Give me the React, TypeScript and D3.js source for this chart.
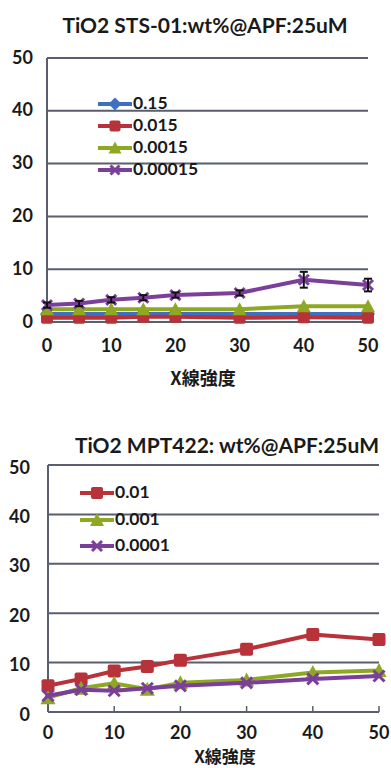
import React from "react";
import * as d3 from "d3";

const xValues = [0, 5, 10, 15, 20, 30, 40, 50];
const xTicks = [0, 10, 20, 30, 40, 50];
const yTicks = [0, 10, 20, 30, 40, 50];

// Panel 1: TiO2 STS-01
const stsLabels = ["0.15", "0.015", "0.0015", "0.00015"];
const sts015 = [1.5, 1.5, 1.5, 1.5, 1.5, 1.5, 1.5, 1.5];
const sts0015 = [0.8, 0.8, 0.8, 1.0, 1.0, 0.8, 0.9, 0.8];
const sts00015 = [2.4, 2.4, 2.4, 2.4, 2.4, 2.4, 3.0, 3.0];
const sts000015 = [3.2, 3.5, 4.2, 4.6, 5.1, 5.5, 8.0, 7.0];
const sts000015Err = [0.5, 0.5, 0.5, 0.5, 0.5, 0.5, 1.5, 1.2];

// Panel 2: TiO2 MPT422
const mptLabels = ["0.01", "0.001", "0.0001"];
const mpt001 = [5.3, 6.7, 8.3, 9.2, 10.5, 12.7, 15.7, 14.7];
const mpt0001 = [2.9, 4.8, 5.8, 4.6, 5.9, 6.5, 8.0, 8.4];
const mpt00001 = [3.3, 4.5, 4.3, 4.8, 5.3, 5.9, 6.7, 7.3];

const BLUE = "#3f6fc0";
const RED = "#b8323a";
const GREEN = "#8fa823";
const PURPLE = "#7b3f9a";
const GRID = "#5a5e6e";
const FONT = "Lato, 'Open Sans', sans-serif";
const CJK = "'Noto Sans CJK JP', sans-serif";

type Shape = "diamond" | "square" | "triangle" | "x";

interface Series {
  label: string;
  values: number[];
  color: string;
  shape: Shape;
  err?: number[];
}

function Marker({ shape, color, x, y, size }: { shape: Shape; color: string; x: number; y: number; size: number }) {
  if (shape === "square") {
    return <rect x={x - size / 2} y={y - size / 2} width={size} height={size} fill={color} rx={2} />;
  }
  if (shape === "diamond") {
    const s = size / 2 + 1;
    return <path d={`M${x},${y - s}L${x + s},${y}L${x},${y + s}L${x - s},${y}Z`} fill={color} />;
  }
  if (shape === "triangle") {
    const s = size / 2;
    return <path d={`M${x},${y - s - 1}L${x + s + 1},${y + s}L${x - s - 1},${y + s}Z`} fill={color} />;
  }
  const s = size / 2 - 1;
  return (
    <g stroke={color} strokeWidth={3}>
      <line x1={x - s} y1={y - s} x2={x + s} y2={y + s} />
      <line x1={x - s} y1={y + s} x2={x + s} y2={y - s} />
    </g>
  );
}

interface PanelProps {
  title: string;
  titleX: number;
  titleY: number;
  x0: number;
  x1: number;
  yTop: number;
  yBottom: number;
  series: Series[];
  legendX: number;
  legendY: number[];
  markerSize: number;
  tickLabelDx: number;
  tickMarks: boolean;
  axisTitleX: number;
  axisTitleY: number;
  axisTitleSize: number;
  xLabelY: number;
  yLabelDy: number;
}

function Panel(p: PanelProps) {
  const x = d3.scaleLinear().domain([0, 50]).range([p.x0, p.x1]);
  const y = d3.scaleLinear().domain([0, 50]).range([p.yBottom, p.yTop]);
  const line = d3
    .line<number>()
    .x((_, i) => x(xValues[i]))
    .y((d) => y(d));

  return (
    <g>
      <text x={p.titleX} y={p.titleY} textAnchor="middle" fontFamily={FONT} fontWeight={700} fontSize={21} fill="#1a1a1a">
        {p.title}
      </text>
      {yTicks.map((t) => (
        <g key={t}>
          <line x1={p.x0} x2={p.x1} y1={y(t)} y2={y(t)} stroke={GRID} strokeWidth={2} />
          <text
            x={p.x0 - p.tickLabelDx}
            y={y(t) + p.yLabelDy}
            textAnchor="end"
            dominantBaseline="middle"
            fontFamily={FONT}
            fontWeight={700}
            fontSize={18}
            fill="#1a1a1a"
          >
            {t}
          </text>
        </g>
      ))}
      <line x1={p.x0} x2={p.x0} y1={p.yTop} y2={p.yBottom} stroke={GRID} strokeWidth={2} />
      {xTicks.map((t) => (
        <g key={t}>
          {p.tickMarks && t > 0 && (
            <line x1={x(t)} x2={x(t)} y1={p.yBottom} y2={p.yBottom - 6} stroke={GRID} strokeWidth={1.5} />
          )}
          <text
            x={x(t)}
            y={p.xLabelY}
            textAnchor="middle"
            dominantBaseline="middle"
            fontFamily={FONT}
            fontWeight={700}
            fontSize={18}
            fill="#1a1a1a"
          >
            {t}
          </text>
        </g>
      ))}
      <text
        x={p.axisTitleX}
        y={p.axisTitleY}
        textAnchor="middle"
        dominantBaseline="middle"
        fontFamily={CJK}
        fontWeight={700}
        fontSize={p.axisTitleSize}
        fill="#1a1a1a"
      >
        X線強度
      </text>

      {p.series.map((s) => (
        <g key={s.label}>
          <path d={line(s.values) || ""} fill="none" stroke={s.color} strokeWidth={4} strokeLinejoin="round" />
          {s.values.map((v, i) => (
            <g key={i}>
              <Marker shape={s.shape} color={s.color} x={x(xValues[i])} y={y(v)} size={p.markerSize} />
              {s.err && (
                <g stroke="#111" strokeWidth={2}>
                  <line x1={x(xValues[i])} x2={x(xValues[i])} y1={y(v - s.err[i])} y2={y(v + s.err[i])} />
                  <line x1={x(xValues[i]) - 4} x2={x(xValues[i]) + 4} y1={y(v + s.err[i])} y2={y(v + s.err[i])} />
                  <line x1={x(xValues[i]) - 4} x2={x(xValues[i]) + 4} y1={y(v - s.err[i])} y2={y(v - s.err[i])} />
                </g>
              )}
            </g>
          ))}
        </g>
      ))}

      {p.series.map((s, i) => (
        <g key={s.label}>
          <line x1={p.legendX} x2={p.legendX + 34} y1={p.legendY[i]} y2={p.legendY[i]} stroke={s.color} strokeWidth={4} />
          <Marker shape={s.shape} color={s.color} x={p.legendX + 17} y={p.legendY[i]} size={p.markerSize - 1} />
          <text
            x={p.legendX + 35}
            y={p.legendY[i] + 1}
            dominantBaseline="middle"
            fontFamily={FONT}
            fontWeight={700}
            fontSize={17.5}
            fill="#1a1a1a"
          >
            {s.label}
          </text>
        </g>
      ))}
    </g>
  );
}

export default function App() {
  const stsSeries: Series[] = [
    { label: stsLabels[0], values: sts015, color: BLUE, shape: "diamond" },
    { label: stsLabels[1], values: sts0015, color: RED, shape: "square" },
    { label: stsLabels[2], values: sts00015, color: GREEN, shape: "triangle" },
    { label: stsLabels[3], values: sts000015, color: PURPLE, shape: "x", err: sts000015Err },
  ];
  const mptSeries: Series[] = [
    { label: mptLabels[0], values: mpt001, color: RED, shape: "square" },
    { label: mptLabels[1], values: mpt0001, color: GREEN, shape: "triangle" },
    { label: mptLabels[2], values: mpt00001, color: PURPLE, shape: "x" },
  ];
  return (
    <svg width={391} height={768} style={{ position: "absolute", left: 0, top: 0, background: "#fff" }}>
      <Panel
        title="TiO2 STS-01:wt%@APF:25uM"
        titleX={205}
        titleY={33}
        x0={47}
        x1={368}
        yTop={58}
        yBottom={322}
        series={stsSeries}
        legendX={98}
        legendY={[104, 126, 148, 170]}
        markerSize={12}
        tickLabelDx={14}
        tickMarks={false}
        axisTitleX={203}
        axisTitleY={380}
        axisTitleSize={18}
        xLabelY={347}
        yLabelDy={1}
        />
      <Panel
        title="TiO2 MPT422: wt%@APF:25uM"
        titleX={227}
        titleY={453}
        x0={48}
        x1={379}
        yTop={465}
        yBottom={712}
        series={mptSeries}
        legendX={80}
        legendY={[493, 520, 546]}
        markerSize={13}
        tickLabelDx={18}
        tickMarks={true}
        axisTitleX={225}
        axisTitleY={758}
        axisTitleSize={17}
        xLabelY={734}
        yLabelDy={4}
      />
    </svg>
  );
}
